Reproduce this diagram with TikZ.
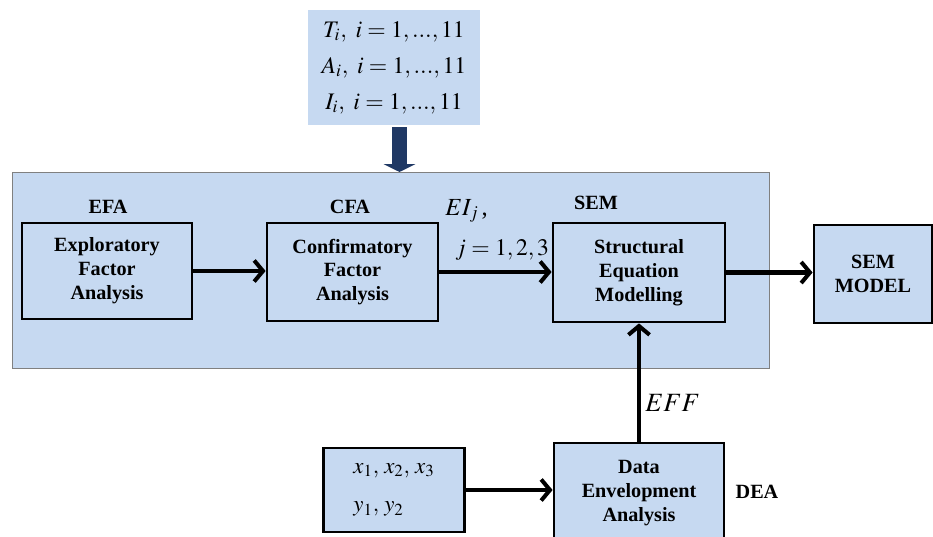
\documentclass[tikz,border=0pt]{standalone}
\usepackage{mathptmx}
\usepackage{fontspec}
\setmainfont{Liberation Serif}
\usepackage{tikz}
\usetikzlibrary{arrows.meta}
\definecolor{semblue}{HTML}{C6D9F1}
\definecolor{semnavy}{HTML}{1F3864}

\begin{document}
\begin{tikzpicture}[
	x=0.02cm, y=-0.02cm,
	blockbox/.style={draw, line width=1.6pt, fill=semblue, font=\fontsize{11.5}{13.6}\selectfont\bfseries, align=center, inner sep=2},
	tag/.style={font=\fontsize{11.5}{13.6}\selectfont\bfseries},
	flow/.style={line width=2.3pt, -{Straight Barb[length=5pt,width=12pt]}},
	mathlbl/.style={font=\fontsize{14}{22}\selectfont, inner sep=0}
]
\useasboundingbox (0,0) rectangle (933,537);

% frame and data input
\node[fill=semblue, draw=gray, line width=0.6pt, minimum width=15.16cm, minimum height=3.92cm] (frame) at (391,270.5) {};
\node[fill=semblue, minimum width=3.44cm, minimum height=2.3cm, align=center, font=\fontsize{13.5}{20.5}\selectfont] (items) at (394,67.5)
	{$T_{i},\ i = 1,...,11$\\ $A_{i},\ i = 1,...,11$\\ $I_{i},\ i = 1,...,11$};

% blocks
\node[blockbox, minimum width=3.4cm, minimum height=1.92cm] (efa) at (107,271) {Exploratory\\Factor\\Analysis};
\node[blockbox, minimum width=3.42cm, minimum height=1.96cm] (cfa) at (352.5,272) {Confirmatory\\Factor\\Analysis};
\node[blockbox, minimum width=3.44cm, minimum height=1.98cm] (sem) at (639,272.5) {Structural\\Equation\\Modelling};
\node[blockbox, minimum width=2.36cm, minimum height=1.96cm] (model) at (873,274) {SEM\\MODEL};
\node[blockbox, minimum width=3.4cm, minimum height=2.0cm] (dea) at (639,493) {Data\\Envelopment\\Analysis};
\node[blockbox, minimum width=2.82cm, minimum height=1.68cm, font=\fontsize{13}{22}\selectfont, align=left] (vars) at (394,490)
	{$x_{1},\, x_{2},\, x_{3}$\\ $y_{1},\, y_{2}$};

% labels
\node[tag] (efalbl) at (108,207) {EFA};
\node[tag] (cfalbl) at (350,207) {CFA};
\node[tag] (semlbl) at (596,203) {SEM};
\node[tag] (dealbl) at (757,492) {DEA};
\node[mathlbl, anchor=west] (eilbl) at (445,211) {$EI_{j}\,$,};
\node[mathlbl, anchor=west, font=\fontsize{13.5}{22}\selectfont] (jlbl) at (455,250) {$j = 1, 2, 3$};
\node[mathlbl, anchor=west, font=\fontsize{15}{22}\selectfont] (efflbl) at (645,403) {$EFF$};

% connectors
\draw[semnavy, line width=8.5pt, -{Triangle[length=4.5pt,width=18pt]}, shorten <=1pt] (items.south -| 399.5,0) -- (frame.north -| 399.5,0);
\draw[flow] (efa.east) -- (cfa.west |- efa.east);
\draw[flow] (cfa.east) -- (sem.west |- cfa.east);
\draw[flow] (sem.east) -- (model.west |- sem.east);
\draw[flow] (dea.north) -- (sem.south);
\draw[flow] (vars.east) -- (dea.west |- vars.east);
\end{tikzpicture}
\end{document}
